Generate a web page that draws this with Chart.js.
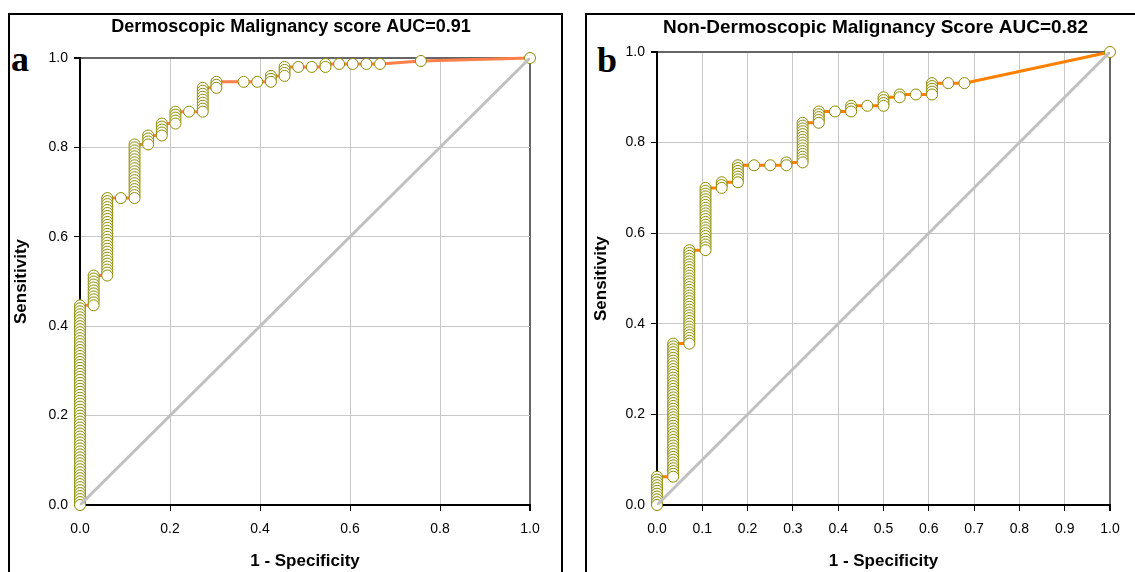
<!DOCTYPE html>
<html>
<head>
<meta charset="utf-8">
<script src="https://cdn.jsdelivr.net/npm/chart.js@4.4.1/dist/chart.umd.min.js"></script>
<style>
  html, body { margin: 0; padding: 0; background: #fff; }
  body { position: relative; width: 1135px; height: 572px; overflow: hidden; }
  .panel { position: absolute; border: 2px solid #000; box-sizing: border-box; }
  .letter { position: absolute; font: bold 36px 'Liberation Serif', 'Times New Roman', serif; line-height: 36px; color: #000; }
  canvas { position: absolute; }
</style>
</head>
<body>
<div class="panel" style="left:8px; top:13px; width:555px; height:600px;"></div>
<div class="panel" style="left:585px; top:13px; width:600px; height:600px;"></div>
<div class="letter" style="left:11px; top:41px;">a</div>
<div class="letter" style="left:597px; top:42px;">b</div>
<canvas id="rocA" width="562" height="557" style="left:10px; top:15px;"></canvas>
<canvas id="rocB" width="577" height="557" style="left:587px; top:15px;"></canvas>
<script>
// panel a : dermoscopic score
// 33 negatives, ~150 positives read off the stacks of markers
const aNeg = 33;
const aPos = 150;
const aFp     = [0, 1, 2, 3, 4, 5, 6, 7, 8, 9, 10, 12, 13, 14, 15, 16, 17, 18, 19, 20, 21, 22, 25, 33];
const aTpFrom = [0, 67, 77, 103, 103, 121, 124, 128, 132, 132, 140, 142, 142, 142, 144, 147, 147, 147, 148, 148, 148, 148, 149, 150];
const aTpTo   = [67, 77, 103, 103, 121, 124, 128, 132, 132, 140, 142, 142, 142, 144, 147, 147, 147, 148, 148, 148, 148, 148, 149, 150];

// panel b : non-dermoscopic score
const bNeg = 28;
const bPos = 160;
const bFp     = [0, 1, 2, 3, 4, 5, 6, 7, 8, 9, 10, 11, 12, 13, 14, 15, 16, 17, 18, 19, 28];
const bTpFrom = [0, 10, 57, 90, 112, 114, 120, 120, 120, 121, 135, 139, 139, 141, 141, 144, 145, 145, 149, 149, 160];
const bTpTo   = [10, 57, 90, 112, 114, 120, 120, 120, 121, 135, 139, 139, 141, 141, 144, 145, 145, 149, 149, 149, 160];

const tickLabels = { a: 0.2, b: 0.1 };
const diagonal = [{ x: 0, y: 0 }, { x: 1, y: 1 }];

Chart.defaults.font.family = "'Liberation Sans', Arial, sans-serif";
Chart.defaults.color = '#000';

// title centred on the whole panel, not on the plot area
const panelTitle = {
    id: 'panelTitle',
    afterDraw(chart, args, opts) {
        const c = chart.ctx;
        c.save();
        c.font = 'bold ' + opts.size + 'px ' + Chart.defaults.font.family;
        c.fillStyle = '#000';
        c.textAlign = 'center';
        c.textBaseline = 'middle';
        c.fillText(opts.text, opts.x, opts.y);
        c.restore();
    }
};

// one marker per case, drawn from (1,1) down to (0,0) like the original
function rocPoints(fp, tpFrom, tpTo, nNeg, nPos) {
    const pts = [];
    for (let i = fp.length - 1; i >= 0; i--) {
        for (let k = tpTo[i]; k >= tpFrom[i]; k--) {
            pts.push({ x: fp[i] / nNeg, y: k / nPos });
        }
    }
    return pts;
}

function makeRoc(id, title, points, lineColor, xStep, lay) {
    const ctx = document.getElementById(id).getContext('2d');
    return new Chart(ctx, {
        type: 'scatter',
        plugins: [panelTitle],
        data: {
            datasets: [{
                data: diagonal,
                showLine: true,
                borderColor: '#c0c0c0',
                borderWidth: 3,
                pointRadius: 0
            }, {
                data: points,
                showLine: true,
                clip: false,
                borderColor: lineColor,
                borderWidth: 3,
                pointRadius: 5.5,
                pointBackgroundColor: '#fff',
                pointBorderColor: '#8c8c00',
                pointBorderWidth: 1
            }]
        },
        options: {
            responsive: false,
            animation: false,
            layout: { padding: { left: 0, right: lay.right, top: lay.top, bottom: 0 } },
            plugins: {
                legend: { display: false },
                tooltip: { enabled: false },
                panelTitle: { text: title, x: lay.titleX, y: lay.titleY, size: lay.titleSize }
            },
            scales: {
                x: {
                    type: 'linear',
                    min: 0,
                    max: 1,
                    afterFit: s => { s.height = 67; },
                    ticks: {
                        stepSize: xStep,
                        padding: 10,
                        font: { size: 14 },
                        color: '#000',
                        callback: v => v.toFixed(1)
                    },
                    grid: {
                        color: c => (c.tick && c.tick.value === 1) ? '#666' : '#c8c8c8',
                        lineWidth: c => (c.tick && c.tick.value === 1) ? 2 : 1,
                        tickColor: '#000',
                        tickLength: 6
                    },
                    border: { color: '#000', width: 2 },
                    title: {
                        display: true,
                        text: '1 - Specificity',
                        font: { size: 17, weight: 'bold' },
                        color: '#000',
                        padding: { top: 0, bottom: 0.8 }
                    }
                },
                y: {
                    type: 'linear',
                    min: 0,
                    max: 1,
                    afterFit: s => { s.width = 70; },
                    ticks: {
                        stepSize: 0.2,
                        padding: 6,
                        font: { size: 14 },
                        color: '#000',
                        callback: v => v.toFixed(1)
                    },
                    grid: {
                        color: c => (c.tick && c.tick.value === 1) ? '#666' : '#c8c8c8',
                        lineWidth: c => (c.tick && c.tick.value === 1) ? 2 : 1,
                        tickColor: '#000',
                        tickLength: 6
                    },
                    border: { color: '#000', width: 2 },
                    title: {
                        display: true,
                        text: 'Sensitivity',
                        font: { size: 17, weight: 'bold' },
                        color: '#000',
                        padding: { top: lay.yTitle, bottom: 0 }
                    }
                }
            }
        }
    });
}

makeRoc('rocA', 'Dermoscopic Malignancy score AUC=0.91',
    rocPoints(aFp, aTpFrom, aTpTo, aNeg, aPos), '#ff7f4a', tickLabels.a,
    { right: 42, top: 43, titleX: 281, titleY: 12.5, titleSize: 18, yTitle: 0.8 });

makeRoc('rocB', 'Non-Dermoscopic Malignancy Score AUC=0.82',
    rocPoints(bFp, bTpFrom, bTpTo, bNeg, bPos), '#ff8000', tickLabels.b,
    { right: 54, top: 37, titleX: 288.5, titleY: 13, titleSize: 19, yTitle: 4.3 });
</script>
</body>
</html>
